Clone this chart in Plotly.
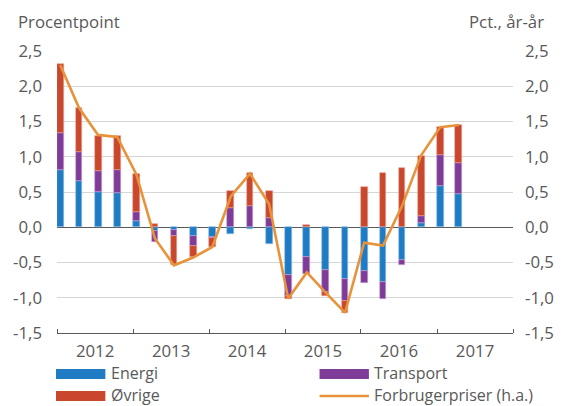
import plotly.graph_objects as go

# ---- data ----
quarters = ["2012-01-01", "2012-04-01", "2012-07-01", "2012-10-01",
            "2013-01-01", "2013-04-01", "2013-07-01", "2013-10-01",
            "2014-01-01", "2014-04-01", "2014-07-01", "2014-10-01",
            "2015-01-01", "2015-04-01", "2015-07-01", "2015-10-01",
            "2016-01-01", "2016-04-01", "2016-07-01", "2016-10-01",
            "2017-01-01", "2017-04-01"]
energi = [0.81, 0.66, 0.50, 0.49, 0.085, -0.06, -0.04, -0.12, -0.14, -0.09, -0.02, -0.24,
          -0.68, -0.42, -0.61, -0.73, -0.62, -0.78, -0.46, 0.065, 0.58, 0.47]
transport = [0.53, 0.41, 0.30, 0.32, 0.135, -0.15, -0.08, -0.15, -0.01, 0.28, 0.30, 0.13,
             -0.29, -0.24, -0.31, -0.32, -0.17, -0.24, -0.07, 0.10, 0.45, 0.44]
ovrige = [0.97, 0.62, 0.50, 0.48, 0.53, 0.05, -0.42, -0.15, -0.13, 0.24, 0.47, 0.39,
          -0.05, 0.03, -0.05, -0.16, 0.57, 0.77, 0.84, 0.85, 0.39, 0.545]
forbrugerpriser = [2.30, 1.69, 1.31, 1.28, 0.75, -0.16, -0.54, -0.43, -0.28, 0.44, 0.76, 0.33,
                   -1.01, -0.64, -0.93, -1.21, -0.22, -0.26, 0.30, 1.02, 1.42, 1.45]
y_ticks = [-1.5, -1.0, -0.5, 0.0, 0.5, 1.0, 1.5, 2.0, 2.5]
y_ticktext = ["-1,5", "-1,0", "-0,5", "0,0", "0,5", "1,0", "1,5", "2,0", "2,5"]

C_E = "#1F7BC4"
C_T = "#7E3B98"
C_O = "#C9472C"
C_L = "#E8923A"
GRAY = "#595959"
FONT = "Open Sans"
FS = 16.8
FS_LEG = 16

W, H = 566, 406
L, R, T, B = 57, 47, 51, 73
PW, PH = W - L - R, H - T - B

def px(x):
    return (x - L) / PW

def py(y):
    return (H - B - y) / PH

bar_w = 33 * 86400000

fig = go.Figure()
for name, vals, col, edge in [("Energi", energi, C_E, "#8FBDE3"),
                              ("Transport", transport, C_T, "#C7A5D3"),
                              ("Øvrige", ovrige, C_O, "#E9A595")]:
    fig.add_trace(go.Bar(x=quarters, y=vals, name=name, marker_color=col,
                         marker_line=dict(color=edge, width=0.6),
                         width=bar_w, xperiod="M1", xperiodalignment="middle",
                         showlegend=False))
fig.add_trace(go.Scatter(x=quarters, y=forbrugerpriser, name="Forbrugerpriser (h.a.)",
                         mode="lines", line=dict(color=C_L, width=2.6),
                         xperiod="M1", xperiodalignment="middle",
                         yaxis="y2", showlegend=False))

fig.update_layout(
    width=W, height=H,
    margin=dict(l=L, r=R, t=T, b=B, pad=0),
    barmode="relative", bargap=0,
    plot_bgcolor="white", paper_bgcolor="white",
    font=dict(family=FONT, size=FS, color=GRAY),
    xaxis=dict(type="date", range=["2012-01-01", "2018-01-01"],
               tick0="2012-01-01", dtick="M12", tickformat="%Y",
               ticklabelmode="period", ticks="inside", ticklen=4,
               tickcolor=GRAY, showgrid=False, showline=True,
               linecolor=GRAY, linewidth=1, zeroline=False,
               ticklabelstandoff=3,
               tickfont=dict(size=FS, color=GRAY)),
    yaxis=dict(range=[-1.5, 2.5], tickvals=y_ticks, ticktext=y_ticktext,
               showgrid=True, gridcolor="#D6D6D6", gridwidth=1.3,
               zeroline=True, zerolinecolor=GRAY, zerolinewidth=1.2,
               showline=False, ticks="", ticklabelstandoff=14,
               tickfont=dict(size=FS, color=GRAY)),
    yaxis2=dict(range=[-1.5, 2.5], tickvals=y_ticks, ticktext=y_ticktext,
                overlaying="y", side="right", showgrid=False, zeroline=False,
                showline=False, ticks="", ticklabelstandoff=11,
                tickfont=dict(size=FS, color=GRAY)),
)

annotations = [
    dict(text="Procentpoint", x=px(16), y=py(22), xanchor="left", yanchor="middle", fs=FS),
    dict(text="Pct., år-år", x=px(551), y=py(22), xanchor="right", yanchor="middle", fs=FS),
    dict(text="Energi", x=px(111), y=py(373), xanchor="left", yanchor="middle", fs=FS_LEG),
    dict(text="Transport", x=px(377), y=py(373), xanchor="left", yanchor="middle", fs=FS_LEG),
    dict(text="Øvrige", x=px(111), y=py(395), xanchor="left", yanchor="middle", fs=FS_LEG),
    dict(text="Forbrugerpriser (h.a.)", x=px(377), y=py(395), xanchor="left",
         yanchor="middle", fs=FS_LEG),
]
for a in annotations:
    size = a.pop("fs")
    a.update(xref="paper", yref="paper", showarrow=False, borderpad=0,
             font=dict(family=FONT, size=size, color=GRAY))
fig.update_layout(annotations=annotations)

shapes = []
for x0, yc, col in [(56, 374, C_E), (323, 374, C_T), (56, 396, C_O)]:
    shapes.append(dict(type="rect", xref="paper", yref="paper",
                       x0=px(x0), x1=px(x0 + 50), y0=py(yc + 5), y1=py(yc - 5),
                       fillcolor=col, line=dict(width=0)))
shapes.append(dict(type="line", xref="paper", yref="paper",
                   x0=px(323), x1=px(373), y0=py(396), y1=py(396),
                   line=dict(color=C_L, width=2.6)))
fig.update_layout(shapes=shapes)

fig.write_html("out.html", config={"displayModeBar": False},
               post_script="document.body.style.margin='0px';document.body.style.padding='0px';")
